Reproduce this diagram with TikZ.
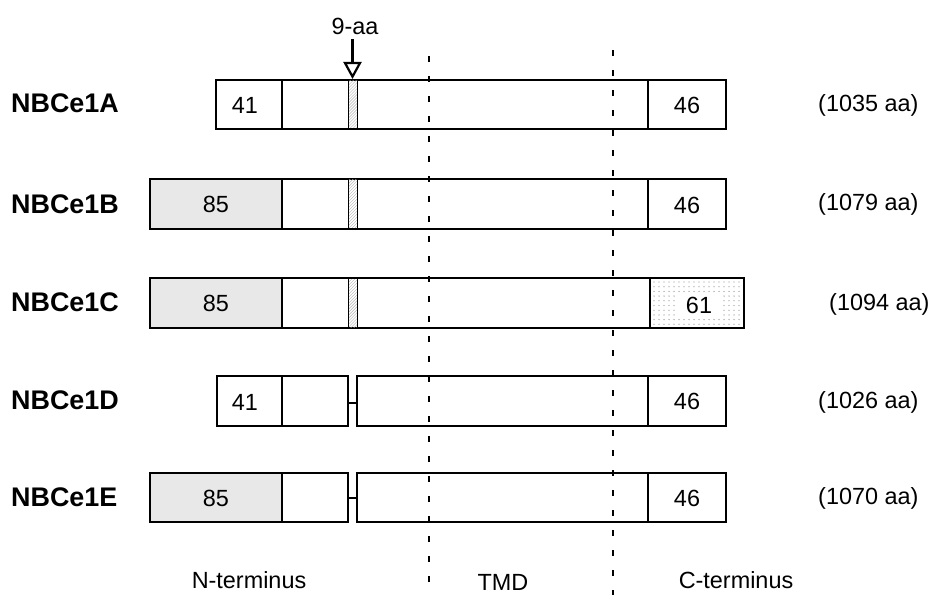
\documentclass[tikz,border=0pt]{standalone}
\usepackage{fontspec}
\setmainfont{Liberation Sans}
\usetikzlibrary{arrows.meta,patterns,positioning}

\tikzset{
  seg/.style={draw, line width=1.3bp},
  nterm/.style={seg, fill=gray!18},
  hatchbox/.style={draw, line width=1bp, pattern=north east lines, pattern color=gray!60},
  isoname/.style={font=\fontsize{27}{31}\selectfont\bfseries, anchor=west, inner sep=0pt},
  txt/.style={font=\fontsize{23.5}{27}\selectfont, inner sep=0pt},
  aalen/.style={txt, anchor=west},
  tmdline/.style={line width=1.3bp, dash pattern=on 6bp off 14bp},
  insarrow/.style={line width=2.6bp, -{Triangle[open, width=18bp, length=17bp, line width=2.2bp]}},
}

\begin{document}
\begin{tikzpicture}[x=1bp, y=-1bp]
\useasboundingbox (0,0) rectangle (928,595);

% NBCe1A
\draw[seg] (216,80) rectangle (726,129);
\draw[seg] (282,80) -- (282,129);
\draw[hatchbox] (348,80) rectangle (357,129);
\draw[seg] (648,80) -- (648,129);
\node[txt] (a41) at (245,105) {41};
\node[txt] (a46) at (687,105) {46};
\node[isoname] (nameA) at (11,103) {NBCe1A};
\node[aalen] (lenA) at (818,105) {(1035 aa)};

% NBCe1B
\draw[nterm] (150,179) rectangle (282,229);
\draw[seg] (282,179) rectangle (726,229);
\draw[hatchbox] (348,179) rectangle (357,229);
\draw[seg] (648,179) -- (648,229);
\node[txt] (b85) at (216,204) {85};
\node[txt] (b46) at (687,205) {46};
\node[isoname] (nameB) at (11,204) {NBCe1B};
\node[aalen] (lenB) at (818,204) {(1079 aa)};

% NBCe1C
\draw[nterm] (150,278) rectangle (282,328);
\draw[seg] (282,278) rectangle (650,328);
\draw[hatchbox] (348,278) rectangle (357,328);
\foreach \dx in {0,...,17}
  \foreach \dy in {0,...,9}
    \fill[gray!85] (654+5*\dx,282+4.7*\dy) circle (0.65);
\draw[seg] (650,278) rectangle (744,328);
\node[txt, fill=white, minimum width=42bp, minimum height=24bp] (c61) at (699,305) {61};
\node[txt] (c85) at (216,303) {85};
\node[isoname] (nameC) at (11,302) {NBCe1C};
\node[aalen] (lenC) at (829,304) {(1094 aa)};

% NBCe1D
\draw[seg] (217,376) rectangle (348,426);
\draw[seg] (282,376) -- (282,426);
\draw[seg] (348,403) -- (357,403);
\draw[seg] (357,376) rectangle (726,426);
\draw[seg] (648,376) -- (648,426);
\node[txt] (d41) at (245,402) {41};
\node[txt] (d46) at (687,401) {46};
\node[isoname] (nameD) at (11,400) {NBCe1D};
\node[aalen] (lenD) at (818,402) {(1026 aa)};

% NBCe1E
\draw[nterm] (150,473) rectangle (282,522);
\draw[seg] (282,473) rectangle (348,522);
\draw[seg] (348,498) -- (357,498);
\draw[seg] (357,473) rectangle (726,522);
\draw[seg] (648,473) -- (648,522);
\node[txt] (e85) at (216,498) {85};
\node[txt] (e46) at (687,498) {46};
\node[isoname] (nameE) at (11,497) {NBCe1E};
\node[aalen] (lenE) at (818,498) {(1070 aa)};

% TMD borders
\draw[tmdline] (429,56) -- (429,595);
\draw[tmdline] (613,50) -- (613,595);

% 9-aa insert
\node[txt] (nine) at (355,26) {9-aa};
\coordinate (cut) at (352.5,79);
\draw[insarrow] ([yshift=-5bp]nine.south -| cut) -- (cut);

% regions
\node[txt] (nterm) at (249,580) {N-terminus};
\node[txt] (tmd) at (503,582) {TMD};
\node[txt] (cterm) at (736,580) {C-terminus};
\end{tikzpicture}
\end{document}
